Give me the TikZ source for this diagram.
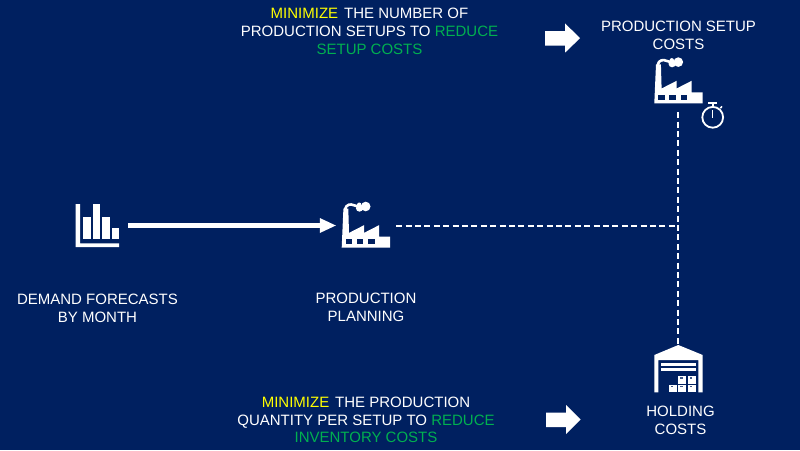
\documentclass[tikz,border=0pt]{standalone}
\usepackage{fontspec}
\setmainfont{Liberation Sans}
\definecolor{bg}{HTML}{002060}
\definecolor{grn}{HTML}{00B050}
\definecolor{yel}{HTML}{FFFF00}
\newcommand{\mz}{\textcolor{yel}{MINIMIZE}\hspace{6pt}}
\newcommand{\gn}[1]{\textcolor{grn}{#1}}
\tikzset{
  lbl/.style={text=white,align=center,inner sep=0pt,font=\fontsize{15}{17.8}\selectfont},
  slot/.style={inner sep=0pt,minimum width=#1},
  dashline/.style={draw=white,line width=2pt,dash pattern=on 6pt off 3.4pt},
  factory/.pic={
    \fill[white] (0,0) -- (48.3,0) -- (48.3,-11) -- (37.3,-11) -- (37.3,-22.5) -- (22.3,-14.8) -- (22.3,-22.5) -- (7.3,-14.8) -- (6.6,-39) -- (1.7,-39) -- cycle;
    \foreach \x in {4,15,26.3}{\fill[bg] (\x,-8.3) rectangle ++(6.7,5);}
    \draw[white,line width=2.6pt,line cap=round] (3.4,-38.5) .. controls (4.5,-43.5) and (9,-44) .. (12,-42.5) .. controls (14,-41.5) and (16,-41.5) .. (20,-41);
    \fill[white] (24,-41.2) circle (4.8);
    \fill[white] (17.8,-39.6) circle (3.6);
    \fill[white] (17.5,-43) circle (2.2);
  },
  crate/.pic={
    \fill[white] (0,0) rectangle (8,-7.7);
    \fill[bg!75!white] (2,-6.7) rectangle (4.2,-5);
  }
}
\begin{document}
\begin{tikzpicture}[x=1pt,y=-1pt]
\useasboundingbox (0,0) rectangle (800,450);
\fill[bg] (0,0) rectangle (800,450);

% anchor nodes of the icons
\node[slot=60pt,minimum height=50pt] (chart) at (98,225.5) {};
\node[slot=60pt,minimum height=50pt] (planning) at (366,225.5) {};
\node[slot=50pt,minimum height=64pt] (setup) at (678,80) {};
\node[slot=50pt,minimum height=48pt] (holding) at (678,369) {};
\coordinate (junction) at (678,225.5);

% chart icon
\fill[white] (75.7,204) -- (80,204) -- (80,243.3) -- (119,243.3) -- (119,247) -- (75.7,247) -- cycle;
\fill[white] (83.3,217.3) rectangle (90.7,239.3);
\fill[white] (93,204) rectangle (100.3,239.3);
\fill[white] (102.3,217.3) rectangle (109.7,239.3);
\fill[white] (111.7,227.7) rectangle (119,239.3);

% factories
\pic at (654.3,103.3) {factory};
\pic at (341.7,247.7) {factory};

% stopwatch
\draw[white,line width=1.8pt] (712.7,117.3) circle (10.4);
\draw[white,line width=1.6pt] (712.7,103.5) -- (712.7,106.5);
\draw[white,line width=1.6pt] (708.2,103) -- (717.2,103);
\draw[white,line width=1.5pt] (720.3,108.2) -- (722,106.4);
\draw[white,line width=1.2pt] (712.7,110) -- (712.7,117.5);

% warehouse
\fill[white] (654.3,392.3) -- (654.3,355) -- (678.3,345) -- (702.7,355) -- (702.7,392.3) -- (698.3,392.3) -- (698.3,360) -- (658.3,360) -- (658.3,392.3) -- cycle;
\fill[white] (661,363.3) rectangle (696,366);
\fill[white] (661,368.3) rectangle (696,370.7);
\pic at (669,392.3) {crate};
\pic at (678.3,392.3) {crate};
\pic at (687.7,392.3) {crate};
\pic at (678.3,384) {crate};
\pic at (687.7,384) {crate};

% connectors
\draw[white,line width=4.6pt,shorten >=14pt] (chart.east |- junction) -- (planning.west |- junction);
\fill[white] (planning.west |- junction) -- ++(-16,-7.5) -- ++(0,15) -- cycle;
\draw[dashline] (planning.east) -- (junction);
\draw[dashline] (setup.south) -- (holding.north);

% block arrows
\fill[white] (545,31) -- (565,31) -- (565,23.3) -- (580,38.2) -- (565,52.7) -- (565,45.7) -- (545,45.7) -- cycle;
\fill[white] (546,412.5) -- (566,412.5) -- (566,405) -- (580.5,419.5) -- (566,434) -- (566,427) -- (546,427) -- cycle;

% labels
\node[lbl] (t1) at (369.5,31.5) {\mz THE NUMBER OF\\PRODUCTION SETUPS TO \gn{REDUCE}\\\gn{SETUP COSTS}};
\node[lbl] (t2) at (678.5,35.2) {PRODUCTION SETUP\\COSTS};
\node[lbl] (t3) at (97.5,308.2) {DEMAND FORECASTS\\BY MONTH};
\node[lbl] (t4) at (366,307.7) {PRODUCTION\\PLANNING};
\node[lbl] (t5) at (366,420) {\mz THE PRODUCTION\\QUANTITY PER SETUP TO \gn{REDUCE}\\\gn{INVENTORY COSTS}};
\node[lbl] (t6) at (680.5,420.3) {HOLDING\\COSTS};
\end{tikzpicture}
\end{document}
